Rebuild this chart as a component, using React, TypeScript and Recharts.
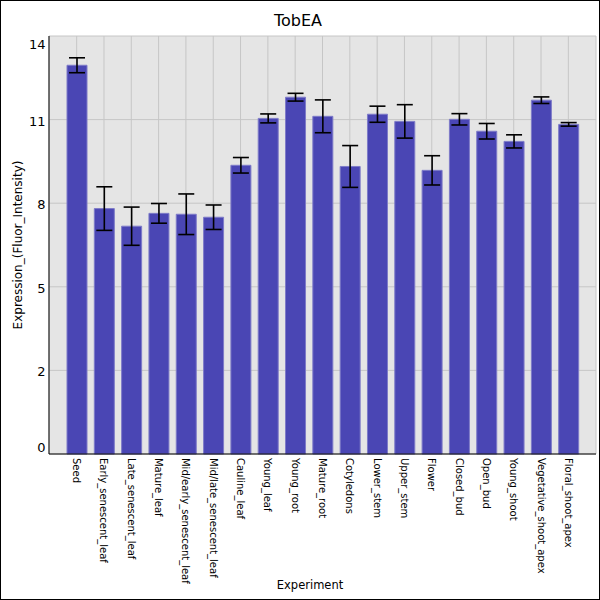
import React from "react";
import {
  BarChart, Bar, XAxis, YAxis, CartesianGrid, ErrorBar, Label,
} from "recharts";

const FONT = "DejaVu Sans, sans-serif";

const categories = [
  "Seed", "Early_senescent_leaf", "Late_senescent_leaf", "Mature_leaf",
  "Mid/early_senescent_leaf", "Mid/late_senescent_leaf", "Cauline_leaf",
  "Young_leaf", "Young_root", "Mature_root", "Cotyledons", "Lower_stem",
  "Upper_stem", "Flower", "Closed_bud", "Open_bud", "Young_shoot",
  "Vegetative_shoot_apex", "Floral_shoot_apex",
];

const expression = [
  13.02, 8.22, 7.63, 8.06, 8.03, 7.93, 9.67, 11.24, 11.95, 11.31,
  9.63, 11.38, 11.14, 9.5, 11.21, 10.81, 10.47, 11.85, 11.04,
];

const errors = [
  0.25, 0.73, 0.64, 0.33, 0.68, 0.41, 0.26, 0.15, 0.13, 0.55,
  0.7, 0.27, 0.56, 0.49, 0.19, 0.26, 0.22, 0.11, 0.06,
];

const yTicks = [0, 2.8, 5.6, 8.4, 11.2, 14];

const data = categories.map((name, i) => ({ name, value: expression[i], err: errors[i] }));

function XTick({ x, y, payload }: any) {
  return (
    <text
      x={x} y={y}
      transform={`rotate(90, ${x}, ${y})`}
      textAnchor="start" dominantBaseline="central"
      fontSize={10} fontFamily={FONT} fill="#000"
    >
      {payload.value}
    </text>
  );
}

function YTick({ x, y, payload }: any) {
  // end labels are pulled inside the plot edges
  let dy = 1.5;
  if (payload.value === 14) dy = 8.5;
  if (payload.value === 0) dy = -6.5;
  return (
    <text
      x={x} y={y + dy}
      textAnchor="end" dominantBaseline="central"
      fontSize={13} fontFamily={FONT} fill="#000"
    >
      {Math.floor(payload.value)}
    </text>
  );
}

export default function App() {
  return (
    <div style={{ position: "absolute", left: 0, top: 0, width: 600, height: 600, background: "#fff" }}>
      <div style={{
        position: "absolute", left: 0, top: 0, width: 600, textAlign: "center",
        fontFamily: FONT, fontSize: 16, lineHeight: "16px", paddingTop: 13,
      }}>
        <span style={{ position: "relative", left: -2 }}>TobEA</span>
      </div>
      <BarChart
        width={600} height={600} data={data}
        margin={{ top: 36, right: 4, bottom: 0, left: 0 }}
        barSize={20}
      >
        <CartesianGrid stroke="#c6c6c6" fill="#e5e5e5" />
        <XAxis
          dataKey="name" interval={0} height={146}
          padding={{ left: 14, right: 14 }}
          tick={<XTick />} tickLine={false} tickSize={0} tickMargin={4}
          axisLine={{ stroke: "#000" }}
        >
          <Label content={() => (
            <text x={310} y={585} textAnchor="middle" dominantBaseline="central"
              fontSize={11.5} fontFamily={FONT} fill="#000">Experiment</text>
          )} />
        </XAxis>
        <YAxis
          domain={[0, 14]} ticks={yTicks} width={49}
          tick={<YTick />} tickLine={false} tickSize={0} tickMargin={3.5}
          axisLine={{ stroke: "#000" }}
        >
          <Label content={() => (
            <text x={18} y={245} transform="rotate(-90, 18, 245)" textAnchor="middle"
              dominantBaseline="central" fontSize={12} fontFamily={FONT} fill="#000">
              Expression_(Fluor_Intensity)
            </text>
          )} />
        </YAxis>
        <Bar dataKey="value" fill="#4a46b4" stroke="#7e7bc8" strokeWidth={1} isAnimationActive={false}>
          <ErrorBar dataKey="err" width={8} stroke="#000" strokeWidth={1.6} isAnimationActive={false} />
        </Bar>
      </BarChart>
      <div style={{
        position: "absolute", left: 0, top: 0, width: 600, height: 600,
        boxSizing: "border-box", border: "1px solid #000", pointerEvents: "none",
      }} />
    </div>
  );
}
